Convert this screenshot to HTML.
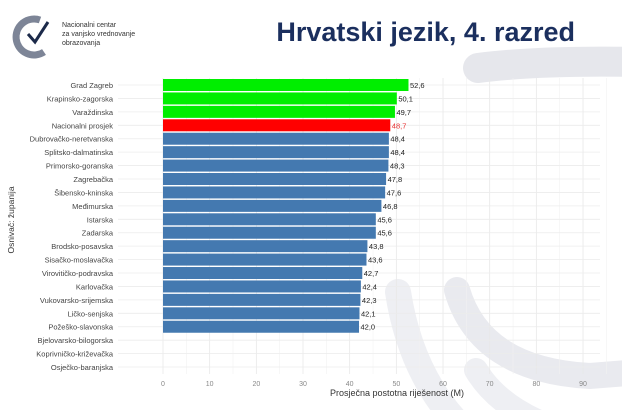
<!DOCTYPE html>
<html><head><meta charset="utf-8"><style>
body{margin:0;width:622px;height:410px;overflow:hidden;background:#fff;font-family:"Liberation Sans",sans-serif}
</style></head><body>
<svg width="622" height="410" viewBox="0 0 622 410">
<g fill="none" stroke-linecap="round">
<path d="M478 68 Q540 60 640 62" stroke="#e6e7ec" stroke-width="30"/>
<path d="M398 292 Q410 370 455 420" stroke="#eeeff3" stroke-width="26"/>
<path d="M457 290 Q480 370 590 376 L640 372" stroke="#e9eaef" stroke-width="26"/>
<path d="M476 370 Q500 410 560 430" stroke="#eeeff3" stroke-width="24"/>
</g>
<g>
<path d="M40 20 A18 18 0 1 0 44 52" fill="none" stroke="#7d8597" stroke-width="7"/>
<path d="M28 34 L35 42 L48 22" fill="none" stroke="#1c2a4a" stroke-width="3"/>
<text x="62" y="27" font-size="7" fill="#333">Nacionalni centar</text>
<text x="62" y="36" font-size="7" fill="#333">za vanjsko vrednovanje</text>
<text x="62" y="45" font-size="7" fill="#333">obrazovanja</text>
</g>
<text x="575" y="41" text-anchor="end" font-size="27" font-weight="bold" fill="#1b2f5e">Hrvatski jezik, 4. razred</text>
<g id="grid"></g>
<g id="bars"></g>
<g id="labels"></g>
<text x="0" y="0" transform="translate(14,220) rotate(-90)" text-anchor="middle" font-size="8.5" fill="#333">Osnivač: županija</text>
<text x="397" y="396" text-anchor="middle" font-size="9" fill="#333">Prosječna postotna riješenost (M)</text>
</svg>
<script>
const categories=["Grad Zagreb","Krapinsko-zagorska","Varaždinska","Nacionalni prosjek","Dubrovačko-neretvanska","Splitsko-dalmatinska","Primorsko-goranska","Zagrebačka","Šibensko-kninska","Međimurska","Istarska","Zadarska","Brodsko-posavska","Sisačko-moslavačka","Virovitičko-podravska","Karlovačka","Vukovarsko-srijemska","Ličko-senjska","Požeško-slavonska","Bjelovarsko-bilogorska","Koprivničko-križevačka","Osječko-baranjska"];
const values=[52.6,50.1,49.7,48.7,48.4,48.4,48.3,47.8,47.6,46.8,45.6,45.6,43.8,43.6,42.7,42.4,42.3,42.1,42.0,null,null,null];
const groups=["top","top","top","avg","b","b","b","b","b","b","b","b","b","b","b","b","b","b","b","b","b","b"];
const xTicks=[0,10,20,30,40,50,60,70,80,90];
const NS="http://www.w3.org/2000/svg";
const x=v=>163+v*4.667;
const y=i=>85+i*13.43;
const colors={top:"#00ee00",avg:"#ff0000",b:"#4479b0"};
function mk(p,t,a){const e=document.createElementNS(NS,t);for(const k in a)e.setAttribute(k,a[k]);p.appendChild(e);return e;}
const g=document.getElementById("grid"),b=document.getElementById("bars"),l=document.getElementById("labels");
for(let v=5;v<=95;v+=10){const ln=mk(g,"line",{x1:x(v),x2:x(v),y1:78,y2:374,stroke:"#f2f2f2","stroke-width":0.6});

}
xTicks.forEach(v=>{const ln=mk(g,"line",{x1:x(v),x2:x(v),y1:78,y2:374,stroke:"#e8e8e8","stroke-width":0.8});


const t=mk(l,"text",{x:x(v),y:386,"text-anchor":"middle","font-size":7,fill:"#888"});t.textContent=v;

});
categories.forEach((c,i)=>{const ln=mk(g,"line",{x1:118,x2:600,y1:y(i),y2:y(i),stroke:"#ececec","stroke-width":0.8});


const t=mk(l,"text",{x:113,y:y(i)+3,"text-anchor":"end","font-size":7.5,fill:"#444"});t.textContent=c;


const v=values[i];if(v==null)return;
const r=mk(b,"rect",{x:x(0),y:y(i)-6,width:x(v)-x(0),height:12,fill:colors[groups[i]]});


const vt=mk(l,"text",{x:x(v)+1.5,y:y(i)+3,"font-size":7.5,fill:groups[i]=="avg"?"#e83030":"#222"});vt.textContent=v.toFixed(1).replace(".",",");

});
</script>
</body></html>
